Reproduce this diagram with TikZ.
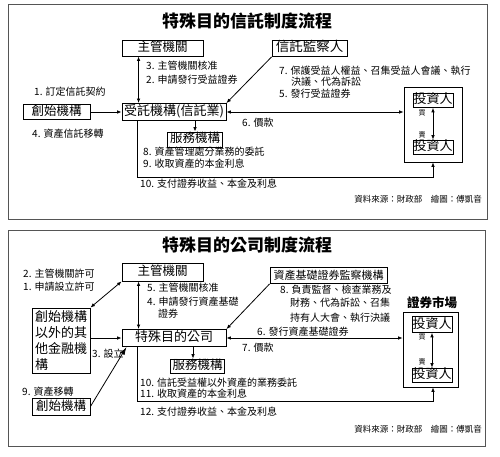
\documentclass[tikz,border=0pt]{standalone}
\usepackage{fontspec}
\setmainfont{Noto Sans CJK TC}
\usetikzlibrary{arrows.meta}
\definecolor{figFrame}{HTML}{555555}

\begin{document}
\begin{tikzpicture}[x=1pt, y=-1pt,
  >={Latex[length=4.5pt,width=3.6pt]},
  boxline/.style={draw, line width=0.9pt, inner sep=0pt, font=\fontsize{12.5}{15}\selectfont},
  box/.style={boxline, text height=0.8em, text depth=0.1em, minimum height=16pt},
  inbox/.style={draw, line width=0.7pt, inner sep=0pt, text height=0.8em, text depth=0.1em, minimum width=40pt, minimum height=14pt, font=\fontsize{13}{15}\selectfont},
  lbl/.style={anchor=west, inner sep=0pt, font=\fontsize{10}{12}\selectfont},
  tradelbl/.style={inner sep=0pt, font=\fontsize{7}{8}\selectfont},
  src/.style={anchor=east, inner sep=0pt, font=\fontsize{8.5}{10}\selectfont},
  ttl/.style={font=\fontsize{17}{20}\selectfont\bfseries},
  panel/.style={draw=figFrame, line width=0.8pt},
  flow/.style={line width=0.8pt},
]
\useasboundingbox (0,0) rectangle (500,457);

% Special-purpose trust
\begin{scope}
  \draw[panel] (8,4) rectangle (487,219);
  \node[ttl] (title1) at (247,21) {特殊目的信託制度流程};
  \node[box, minimum width=81pt] (zhuguan1) at (162.5,48) {主管機關};
  \node[box, minimum width=75pt, font=\fontsize{13.5}{15}\selectfont] (jiancha1) at (309.5,48.5) {信託監察人};
  \node[box, minimum width=67pt, minimum height=15pt] (chuangshi1) at (56.5,112) {創始機構};
  \node[box, minimum width=104pt, minimum height=17pt, font=\fontsize{13}{15}\selectfont] (shoutuo1) at (174,112) {受託機構(信託業)};
  \node[box, minimum width=55pt, minimum height=15pt] (fuwu1) at (195,139.5) {服務機構};
  % investors
  \node[draw, line width=0.8pt, minimum width=58pt, minimum height=75pt] (market1) at (433,124.5) {};
  \node[inbox] (tz1a) at (433,100.5) {投資人};
  \node[inbox] (tz1b) at (433,147) {投資人};
  \node[tradelbl] (buy1) at (422,113) {買};
  \node[tradelbl] (sell1) at (422,135) {賣};
  % labels
  \node[lbl] (l3) at (146,66) {3. 主管機關核准};
  \node[lbl] (l2) at (146,80) {2. 申請發行受益證券};
  \node[lbl] (l1) at (34,92) {1. 訂定信託契約};
  \node[lbl] (l4) at (32,134) {4. 資產信託移轉};
  \node[lbl] (l7) at (279,71) {7. 保護受益人權益、召集受益人會議、執行};
  \node[lbl] (l7b) at (291,82) {決議、代為訴訟};
  \node[lbl] (l5) at (279,94) {5. 發行受益證券};
  \node[lbl] (l6) at (242,123) {6. 價款};
  \node[lbl] (l8) at (143,152) {8. 資產管理處分業務的委託};
  \node[lbl] (l9) at (143,164) {9. 收取資產的本金利息};
  \node[lbl] (l10) at (140,184) {10. 支付證券收益、本金及利息};
  \node[src] (src1) at (482,199) {資料來源：財政部　繪圖：傅凱音};
  % connectors
  \draw[flow,->] (chuangshi1.east) -- (shoutuo1.west);
  \draw[flow,<->] ([xshift=17pt]zhuguan1.south west) -- ([xshift=17pt]shoutuo1.north west);
  \draw[flow,->] (jiancha1.south west) -- (shoutuo1.north east);
  \draw[flow,<->] (shoutuo1.east) -- (market1.west |- shoutuo1.east);
  \draw[flow,->] (shoutuo1.south -| fuwu1.north) -- (fuwu1.north);
  \draw[flow,<->] (tz1a.south) -- (tz1b.north);
  \coordinate (pay1) at (433,177);
  \draw[flow,->] ([xshift=16pt]shoutuo1.south west) |- (pay1) -- (pay1 |- market1.south);
\end{scope}

% Special-purpose company
\begin{scope}[shift={(0,226)}]
  \draw[panel] (8,4) rectangle (485,220);
  \node[ttl] (title2) at (247,19) {特殊目的公司制度流程};
  \node[box, minimum width=81pt, minimum height=18pt] (zhuguan2) at (162.5,46) {主管機關};
  \node[box, minimum width=117pt, font=\fontsize{11}{13}\selectfont] (jc2) at (328.5,49.5) {資產基礎證券監察機構};
  \node[boxline, align=left, minimum width=58pt, minimum height=65pt, font=\fontsize{13}{16}\selectfont] (other2) at (61,114.5) {創始機構\\以外的其\\他金融機\\構};
  \node[box, minimum width=104pt, minimum height=17pt, font=\fontsize{13}{15}\selectfont] (tsp2) at (174,112) {特殊目的公司};
  \node[box, minimum width=54pt, minimum height=14pt] (fuwu2) at (197.5,140) {服務機構};
  \node[box, minimum width=58pt, minimum height=17pt] (chuang2) at (61,180.5) {創始機構};
  % securities market
  \node[font=\fontsize{12.5}{15}\selectfont\bfseries] (mkt2) at (432,77) {證券市場};
  \node[draw, line width=0.8pt, minimum width=55pt, minimum height=75pt] (market2) at (430.5,123.5) {};
  \node[inbox, minimum height=16pt] (tz2a) at (432,98.5) {投資人};
  \node[inbox] (tz2b) at (432,149) {投資人};
  \node[tradelbl] (buy2) at (422,111) {買};
  \node[tradelbl] (sell2) at (422,136) {賣};
  % labels
  \node[lbl] (m2) at (23,48) {2. 主管機關許可};
  \node[lbl] (m1) at (23,61) {1. 申請設立許可};
  \node[lbl] (m5) at (147,62) {5. 主管機關核准};
  \node[lbl] (m4) at (147,76) {4. 申請發行資產基礎};
  \node[lbl] (m4b) at (158,88) {證券};
  \node[lbl] (m8) at (280,64) {8. 負責監督、檢查業務及};
  \node[lbl] (m8b) at (290,77) {財務、代為訴訟、召集};
  \node[lbl] (m8c) at (290,92) {持有人大會、執行決議};
  \node[lbl] (m6) at (257,106) {6. 發行資產基礎證券};
  \node[lbl] (m7) at (242,122) {7. 價款};
  \node[lbl] (m3) at (92,128) {3. 設立};
  \node[lbl] (m9) at (22,166) {9. 資產移轉};
  \node[lbl] (m10) at (140,157) {10. 信託受益權以外資產的業務委託};
  \node[lbl] (m11) at (140,168) {11. 收取資產的本金利息};
  \node[lbl] (m12) at (140,186) {12. 支付證券收益、本金及利息};
  \node[src] (src2) at (482,203) {資料來源：財政部　繪圖：傅凱音};
  % connectors
  \draw[flow,<->] (zhuguan2.south west) -- (other2.north east);
  \draw[flow,<->] ([xshift=17pt]zhuguan2.south west) -- ([xshift=17pt]tsp2.north west);
  \draw[flow,->] (other2.east |- tsp2.west) -- (tsp2.west);
  \draw[flow,-{Latex[length=8pt,width=5pt]}] (chuang2.east) -- ([xshift=5pt]tsp2.south west);
  \draw[flow,->] (jc2.south west) -- (tsp2.north east);
  \draw[flow,<->] (tsp2.east) -- (market2.west |- tsp2.east);
  \draw[flow,->] (tsp2.south -| 193,0) -- (193,0 |- fuwu2.north);
  \draw[flow,<->] (tz2a.south) -- (tz2b.north);
  \coordinate (pay2) at (433,175);
  \draw[flow,->] ([xshift=16pt]tsp2.south west) |- (pay2) -- (pay2 |- market2.south);
\end{scope}
\end{tikzpicture}
\end{document}
